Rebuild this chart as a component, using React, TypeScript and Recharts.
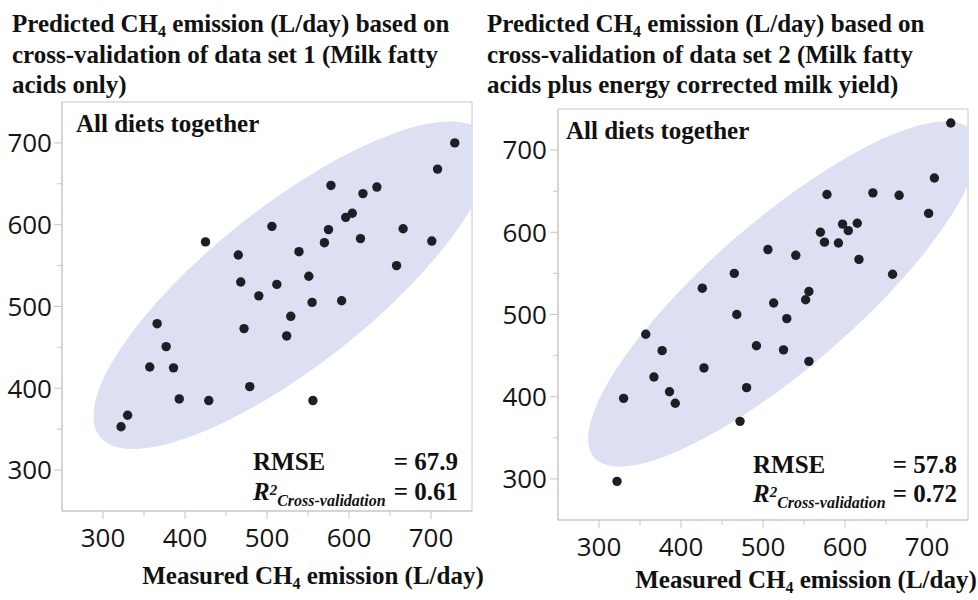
import { ScatterChart, Scatter, XAxis, YAxis, ReferenceArea } from "recharts";

// data set 1: milk fatty acids only
const measured1 = [729, 708, 578, 634, 617, 604, 596, 506, 575, 666, 614, 570, 701, 425, 465, 539, 658, 551, 468, 512, 490, 555, 591, 529, 366, 472, 524, 377, 357, 386, 479, 393, 429, 556, 330, 322];
const predicted1 = [700, 668, 648, 646, 638, 614, 609, 598, 594, 595, 583, 578, 580, 579, 563, 567, 550, 537, 530, 527, 513, 505, 507, 488, 479, 473, 464, 451, 426, 425, 402, 387, 385, 385, 367, 353];

// data set 2: milk fatty acids plus ECM yield
const measured2 = [729, 709, 578, 634, 666, 702, 597, 615, 570, 604, 575, 592, 506, 540, 617, 465, 658, 426, 556, 552, 513, 468, 529, 357, 492, 377, 525, 556, 428, 367, 480, 386, 330, 393, 472, 322];
const predicted2 = [733, 666, 646, 648, 645, 623, 610, 611, 600, 602, 588, 587, 579, 572, 567, 550, 549, 532, 528, 518, 514, 500, 495, 476, 462, 456, 457, 443, 435, 424, 411, 406, 398, 392, 370, 297];

// density ellipse: centre, end of major axis, end of minor axis
const ellipse1 = [
  { x: 530, y: 526 },
  { x: 764, y: 711 },
  { x: 591, y: 450 },
];
const ellipse2 = [
  { x: 524, y: 525 },
  { x: 754, y: 724 },
  { x: 583, y: 458 },
];

const axisTicks = [300, 350, 400, 450, 500, 550, 600, 650, 700];
const domain: [number, number] = [250, 750];

const frameGray = "#c6c6c6";
const serif = "'Liberation Serif', 'Times New Roman', serif";
const sans = "'Open Sans', 'DejaVu Sans', sans-serif";

const toPoints = (xs: number[], ys: number[]) => xs.map((x, i) => ({ x, y: ys[i] }));

const renderEllipse = (props: any) => {
  const pts = props.points || [];
  if (pts.length < 3) return <g />;
  const [c, m, n] = pts;
  const rx = Math.hypot(m.x - c.x, m.y - c.y);
  const ry = Math.hypot(n.x - c.x, n.y - c.y);
  const angle = (Math.atan2(m.y - c.y, m.x - c.x) * 180) / Math.PI;
  return (
    <ellipse
      cx={c.x}
      cy={c.y}
      rx={rx}
      ry={ry}
      transform={`rotate(${angle} ${c.x} ${c.y})`}
      fill="#dce0f2"
      stroke="none"
    />
  );
};

const renderDot = (p: any) => <circle cx={p.cx} cy={p.cy} r={4.7} fill="#1e1e24" />;
const noShape = () => <g />;

// tick marks drawn by hand so majors (with labels) and minors differ in length
const makeXTick = (gap: number) => (p: any) => {
  const v = p.payload.value;
  const major = v % 100 === 0;
  return (
    <g>
      <line x1={p.x} x2={p.x} y1={p.y} y2={p.y + (major ? 8 : 5)} stroke={frameGray} />
      {major ? (
        <text x={p.x} y={p.y + 8 + gap} dy="0.71em" textAnchor="middle" fill="#151515" fontSize={26} fontFamily={sans}>
          {v}
        </text>
      ) : null}
    </g>
  );
};

const makeYTick = (gap: number) => (p: any) => {
  const v = p.payload.value;
  const major = v % 100 === 0;
  return (
    <g>
      <line x1={p.x} x2={p.x - (major ? 8 : 5)} y1={p.y} y2={p.y} stroke={frameGray} />
      {major ? (
        <text x={p.x - 8 - gap} y={p.y} dy="0.355em" textAnchor="end" fill="#151515" fontSize={26} fontFamily={sans}>
          {v}
        </text>
      ) : null}
    </g>
  );
};

interface PanelProps {
  points: { x: number; y: number }[];
  ellipse: { x: number; y: number }[];
  width: number;
  margin: { top: number; right: number; bottom: number; left: number };
  xGap: number;
  yGap: number;
}

function Panel({ points, ellipse, width, margin, xGap, yGap }: PanelProps) {
  return (
    <ScatterChart width={width} height={600} margin={margin}>
      <XAxis
        type="number"
        dataKey="x"
        domain={domain}
        ticks={axisTicks}
        interval={0}
        allowDataOverflow
        height={30}
        axisLine={{ stroke: frameGray }}
        tickLine={false}
        tickSize={0}
        tickMargin={0}
        tick={makeXTick(xGap)}
      />
      <YAxis
        type="number"
        dataKey="y"
        domain={domain}
        ticks={axisTicks}
        interval={0}
        allowDataOverflow
        width={60}
        axisLine={{ stroke: frameGray }}
        tickLine={false}
        tickSize={0}
        tickMargin={0}
        tick={makeYTick(yGap)}
      />
      <Scatter data={ellipse} shape={noShape} line={renderEllipse} lineType="joint" isAnimationActive={false} />
      <Scatter data={points} shape={renderDot} isAnimationActive={false} />
      <ReferenceArea x1={250} x2={750} y1={250} y2={750} fill="none" stroke={frameGray} ifOverflow="visible" />
    </ScatterChart>
  );
}

export default function App() {
  return (
    <div style={{ position: "absolute", left: 0, top: 0, width: 978, height: 600, background: "#fff" }}>
      <div style={{ position: "absolute", left: 0, top: 0 }}>
        <Panel
          points={toPoints(measured1, predicted1)}
          ellipse={ellipse1}
          width={490}
          margin={{ top: 102, right: 18, bottom: 59, left: 2 }}
          xGap={10}
          yGap={2}
        />
      </div>
      <div style={{ position: "absolute", left: 490, top: 0 }}>
        <Panel
          points={toPoints(measured2, predicted2)}
          ellipse={ellipse2}
          width={488}
          margin={{ top: 109, right: 10, bottom: 50, left: 8 }}
          xGap={10}
          yGap={3}
        />
      </div>
      <svg
        width={978}
        height={600}
        style={{ position: "absolute", left: 0, top: 0, pointerEvents: "none" }}
        fontFamily={serif}
        fontWeight="bold"
        fill="#111"
      >
        {/* titles */}
        <text x={12} y={31.5} fontSize={25}>
          Predicted CH<tspan fontSize={16} dy={5}>4</tspan>
          <tspan dy={-5}> emission (L/day) based on</tspan>
        </text>
        <text x={12} y={62.5} fontSize={25}>cross-validation of data set 1 (Milk fatty</text>
        <text x={12} y={93} fontSize={25}>acids only)</text>

        <text x={487} y={31.5} fontSize={25}>
          Predicted CH<tspan fontSize={16} dy={5}>4</tspan>
          <tspan dy={-5}> emission (L/day) based on</tspan>
        </text>
        <text x={487} y={62.5} fontSize={25}>cross-validation of data set 2 (Milk fatty</text>
        <text x={487} y={93} fontSize={25}>acids plus energy corrected milk yield)</text>

        <text x={76} y={132} fontSize={25}>All diets together</text>
        <text x={566} y={139} fontSize={25}>All diets together</text>

        {/* statistics */}
        <text x={253} y={470} fontSize={25}>RMSE</text>
        <text x={458} y={470} fontSize={25} textAnchor="end">= 67.9</text>
        <text x={253} y={500} fontSize={25} fontStyle="italic">
          R<tspan fontSize={15} dy={-5}>2</tspan>
          <tspan fontSize={16} dy={11}>Cross-validation</tspan>
        </text>
        <text x={458} y={500} fontSize={25} textAnchor="end">= 0.61</text>

        <text x={753} y={473} fontSize={25}>RMSE</text>
        <text x={957} y={473} fontSize={25} textAnchor="end">= 57.8</text>
        <text x={753} y={502} fontSize={25} fontStyle="italic">
          R<tspan fontSize={15} dy={-5}>2</tspan>
          <tspan fontSize={16} dy={11}>Cross-validation</tspan>
        </text>
        <text x={957} y={502} fontSize={25} textAnchor="end">= 0.72</text>

        {/* axis titles */}
        <text x={313} y={584} fontSize={25} textAnchor="middle">
          Measured CH<tspan fontSize={16} dy={5}>4</tspan>
          <tspan dy={-5}> emission (L/day)</tspan>
        </text>
        <text x={806} y={588} fontSize={25} textAnchor="middle">
          Measured CH<tspan fontSize={16} dy={5}>4</tspan>
          <tspan dy={-5}> emission (L/day)</tspan>
        </text>
      </svg>
    </div>
  );
}
